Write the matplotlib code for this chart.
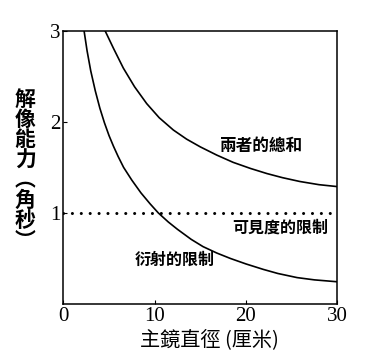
import matplotlib
matplotlib.use("Agg")
from matplotlib import pyplot as plt

plt.rcParams['font.family'] = ['Noto Sans CJK TC', 'DejaVu Sans']

# values
diam_diffraction = [2.27, 2.6, 3.0, 3.5, 4.0, 4.5, 5.0, 5.5, 6.0, 6.6, 7.5, 8.5, 9.5, 10.4,
                    11.5, 12.5, 14.0, 15.3, 16.8, 18.3, 20.0, 21.9, 23.5, 25.6, 27.5, 29.9]
res_diffraction = [3.0, 2.78, 2.56, 2.34, 2.15, 1.99, 1.85, 1.73, 1.62, 1.50, 1.36, 1.22, 1.10, 1.00,
                   0.90, 0.82, 0.71, 0.63, 0.56, 0.50, 0.44, 0.38, 0.335, 0.29, 0.265, 0.245]

diam_total = [4.57, 5.5, 6.57, 7.8, 9.13, 10.5, 12.05, 13.5, 15.0, 16.8, 18.6, 20.5,
              22.3, 24.0, 25.9, 28.0, 29.9]
res_total = [3.0, 2.805, 2.59, 2.385, 2.20, 2.045, 1.91, 1.81, 1.725, 1.635, 1.555, 1.488,
             1.432, 1.387, 1.345, 1.31, 1.29]

seeing_x = [0, 30]
seeing_y = [1, 1]

x_ticks = [0, 10, 20, 30]
y_ticks = [1, 2, 3]

fig = plt.figure(figsize=(3.85, 3.54), dpi=100)
ax = fig.add_axes([0.1645, 0.1412, 0.7115, 0.772])

ax.plot(diam_diffraction, res_diffraction, color='black', lw=1.2)
ax.plot(diam_total, res_total, color='black', lw=1.2)
ax.plot(seeing_x, seeing_y, color='black', lw=2.2, linestyle=(0, (0.01, 2.9)),
        dash_capstyle='round')

ax.set_xlim(0, 30)
ax.set_ylim(0, 3)
ax.set_xticks(x_ticks)
ax.set_yticks(y_ticks)
ax.set_xticklabels([str(t) for t in x_ticks], fontfamily='Liberation Serif', fontsize=15)
ax.set_yticklabels([str(t) for t in y_ticks], fontfamily='Liberation Serif', fontsize=15)
ax.tick_params(direction='in', length=3, pad=2)
for s in ax.spines.values():
    s.set_linewidth(1.1)

ax.text(17.2, 1.73, '兩者的總和', fontsize=12, fontweight='bold', ha='left', va='center')
ax.text(23.8, 0.84, '可見度的限制', fontsize=11.5, fontweight='bold', ha='center', va='center')
ax.text(12.2, 0.48, '衍射的限制', fontsize=11.5, fontweight='bold', ha='center', va='center')

fig.text(0.545, 0.04, '主鏡直徑 (厘米)', fontsize=14.5, ha='center', va='center')
fig.text(0.065, 0.52, '\n'.join('解像能力︵角秒︶'), fontsize=15, fontweight='bold',
         ha='center', va='center', linespacing=0.95)

fig.savefig('out.png', dpi=100, facecolor='white')
